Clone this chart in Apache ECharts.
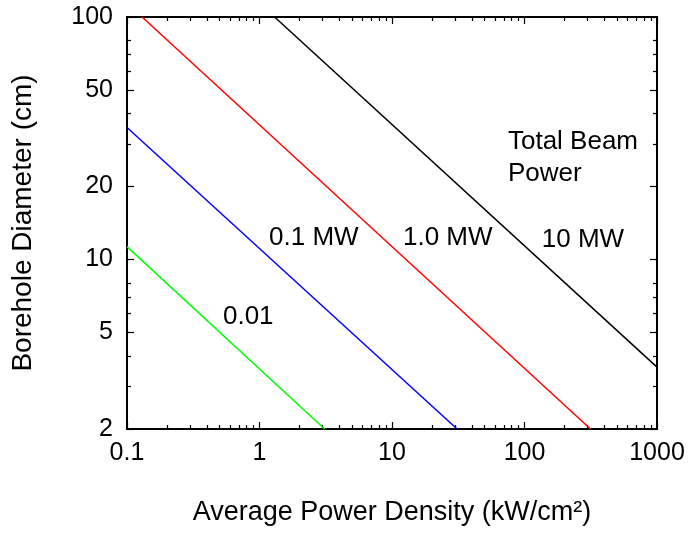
<!DOCTYPE html>
<html>
<head>
<meta charset="utf-8">
<script src="https://cdn.jsdelivr.net/npm/echarts@6/dist/echarts.min.js"></script>
<style>
html, body { margin: 0; padding: 0; background: #fff; }
#chart { width: 697px; height: 539px; }
</style>
</head>
<body>
<div id="chart"></div>
<script>
const font = '"Liberation Sans", Arial, Helvetica, sans-serif';

// tick values
const xMajor = [0.1, 1, 10, 100, 1000];
const xMinor = [0.2, 0.3, 0.4, 0.5, 0.6, 0.7, 0.8, 0.9,
                2, 3, 4, 5, 6, 7, 8, 9,
                20, 30, 40, 50, 60, 70, 80, 90,
                200, 300, 400, 500, 600, 700, 800, 900];
const yMajor = [2, 5, 10, 20, 50, 100];
const yMinor = [3, 4, 6, 7, 8, 30, 40, 60, 70, 80];

// lines (power density kW/cm2, diameter cm)
const line10MW = [[1.3, 100], [1000, 3.6]];
const line1MW = [[0.13, 100], [315, 2]];
const line01MW = [[0.1, 35], [31, 2]];
const line001MW = [[0.1, 11.3], [3.1, 2]];

const lineColors = ['#000000', '#ff0000', '#0000ff', '#00ff00'];

// annotations
const noteTexts = ['Total Beam', 'Power', '10 MW', '1.0 MW', '0.1 MW', '0.01'];
const notePoints = [[75, 30.5], [75, 22.5], [135, 12.0], [12.1, 12.3], [1.18, 12.3], [0.53, 5.8]];

const chart = echarts.init(document.getElementById('chart'), null, {renderer: 'canvas'});

function fmt(v) {
    return String(+v.toPrecision(6));
}

function xAxisDef(position, ticks, len, main) {
    return {
        type: 'log',
        logBase: 10,
        position: position,
        min: 0.1,
        max: 1000,
        gridIndex: 0,
        axisLine: {show: main, lineStyle: {color: '#000', width: 2}},
        axisTick: {show: true, inside: true, length: len, customValues: ticks,
                   lineStyle: {color: '#000', width: 1.2}},
        axisLabel: {show: main && position === 'bottom', customValues: xMajor, formatter: fmt,
                    color: '#000', fontSize: 25, fontWeight: 'normal', fontFamily: font, margin: 12},
        splitLine: {show: false},
        minorTick: {show: false},
        name: (main && position === 'bottom') ? 'Average Power Density (kW/cm\u00b2)' : '',
        nameLocation: 'middle',
        nameGap: 70,
        nameTextStyle: {color: '#000', fontSize: 27, fontWeight: 'normal', fontFamily: font}
    };
}

function yAxisDef(position, ticks, len, main) {
    return {
        type: 'log',
        logBase: 10,
        position: position,
        min: 2,
        max: 100,
        gridIndex: 0,
        axisLine: {show: main, lineStyle: {color: '#000', width: 2}},
        axisTick: {show: true, inside: true, length: len, customValues: ticks,
                   lineStyle: {color: '#000', width: 1.2}},
        axisLabel: {show: main && position === 'left', customValues: yMajor, formatter: fmt,
                    color: '#000', fontSize: 25, fontWeight: 'normal', fontFamily: font, margin: 14},
        splitLine: {show: false},
        minorTick: {show: false},
        name: (main && position === 'left') ? 'Borehole Diameter (cm)' : '',
        nameLocation: 'middle',
        nameRotate: 90,
        nameGap: 90,
        nameTextStyle: {color: '#000', fontSize: 28, fontWeight: 'normal', fontFamily: font}
    };
}

const lines = [line10MW, line1MW, line01MW, line001MW];
const series = lines.map(function (d, i) {
    return {
        type: 'line',
        xAxisIndex: 0,
        yAxisIndex: 0,
        data: d,
        symbol: 'none',
        silent: true,
        lineStyle: {color: lineColors[i], width: 1.5},
        z: 2
    };
});

series.push({
    type: 'scatter',
    xAxisIndex: 0,
    yAxisIndex: 0,
    symbolSize: 0,
    silent: true,
    itemStyle: {opacity: 1, color: '#000'},
    data: notePoints.map(function (p, i) {
        return {value: p, name: noteTexts[i]};
    }),
    label: {
        show: true,
        position: 'right',
        distance: 0,
        formatter: '{b}',
        color: '#000',
        opacity: 1,
        fontSize: 26,
        fontWeight: 'normal',
        fontFamily: font
    },
    z: 3
});

const option = {
    backgroundColor: '#fff',
    animation: false,
    grid: {left: 127, right: 40, top: 17, bottom: 110, containLabel: false, outerBoundsMode: 'none'},
    xAxis: [
        xAxisDef('bottom', xMajor, 7, true),
        xAxisDef('bottom', xMinor, 4, false),
        xAxisDef('top', xMajor, 7, true),
        xAxisDef('top', xMinor, 4, false)
    ],
    yAxis: [
        yAxisDef('left', yMajor, 7, true),
        yAxisDef('left', yMinor, 4, false),
        yAxisDef('right', yMajor, 7, true),
        yAxisDef('right', yMinor, 4, false)
    ],
    series: series
};

chart.setOption(option);
</script>
</body>
</html>
